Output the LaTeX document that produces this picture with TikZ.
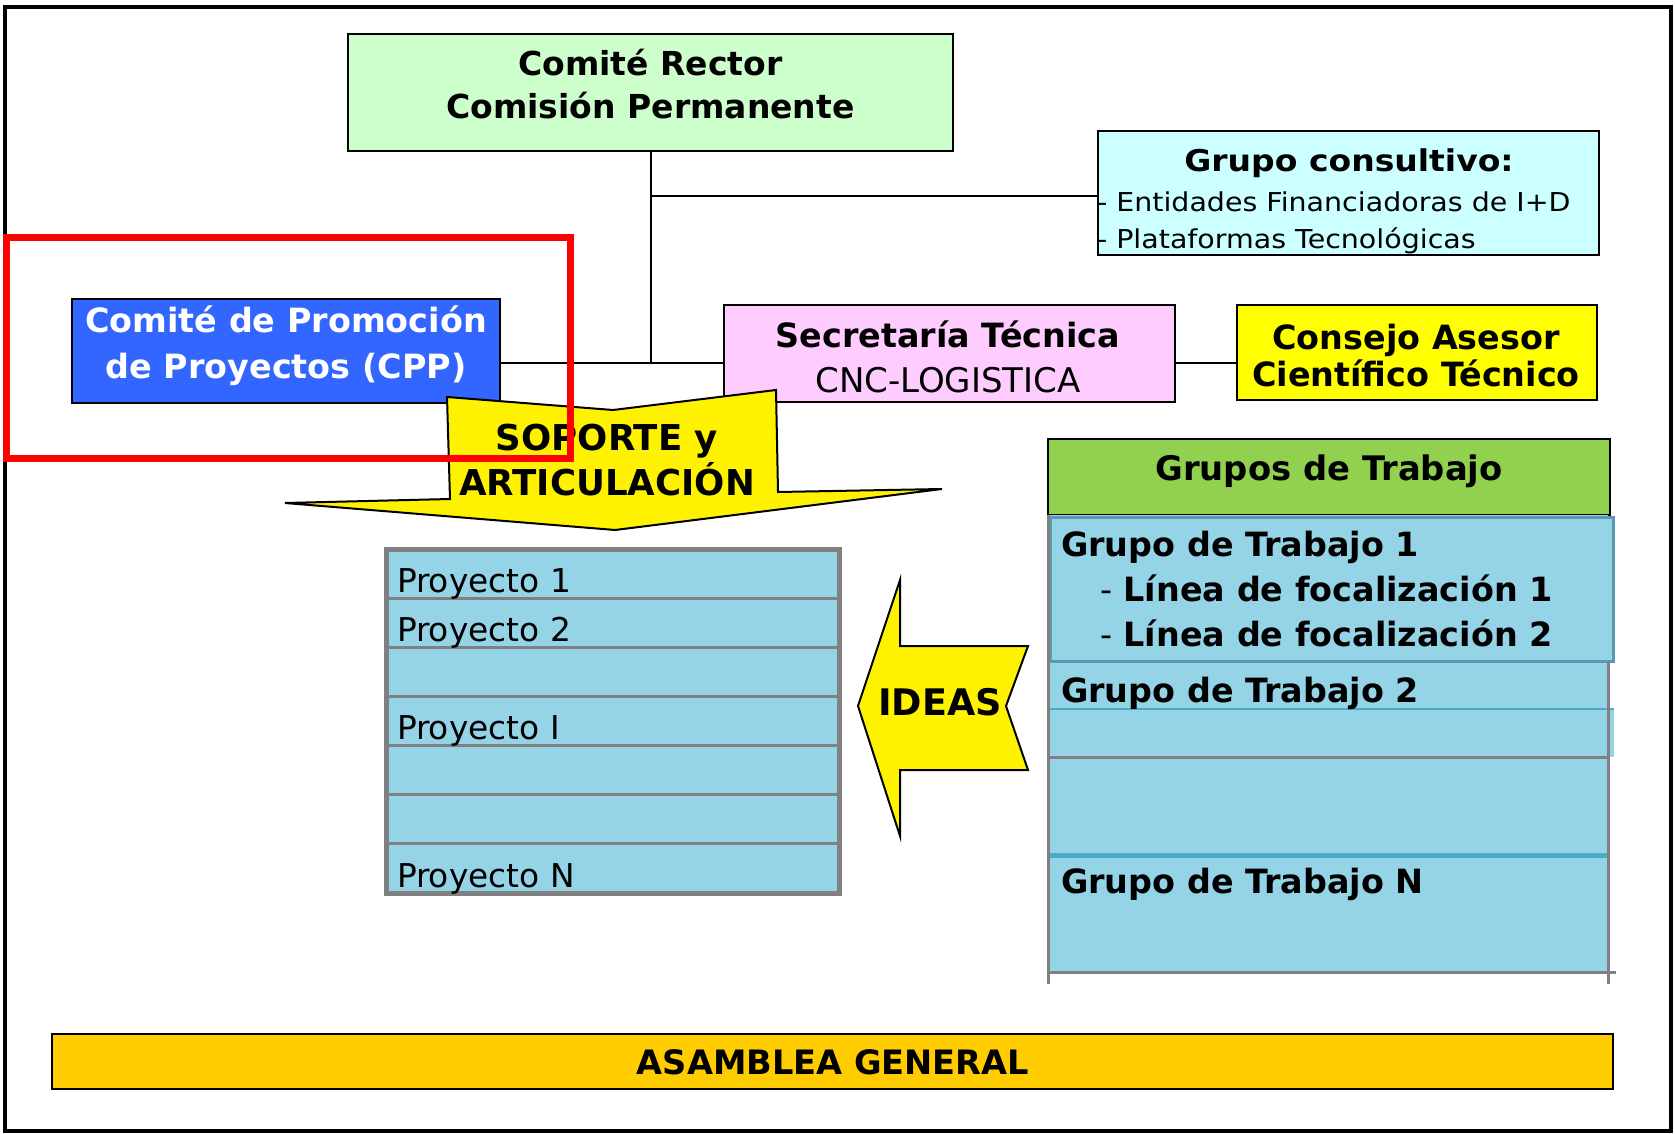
\documentclass[tikz,border=0pt]{standalone}
\usepackage{fontspec}
\setmainfont{DejaVu Sans}
\usepackage{graphicx}
\definecolor{crgreen}{HTML}{CCFFCC}
\definecolor{gccyan}{HTML}{CCFFFF}
\definecolor{cppblue}{HTML}{3366FF}
\definecolor{stpink}{HTML}{FFCCFF}
\definecolor{cayellow}{HTML}{FFFF00}
\definecolor{ghgreen}{HTML}{92D050}
\definecolor{rowblue}{HTML}{95D3E6}
\definecolor{agorange}{HTML}{FFCC00}
\definecolor{tealb}{HTML}{5A9AB0}
\definecolor{lightdiv}{HTML}{4BACC6}
\definecolor{grayb}{HTML}{808080}
\begin{document}
\begin{tikzpicture}[x=0.5pt,y=-0.5pt,
  box/.style={draw=black,line width=1pt,inner sep=0pt,outer sep=0pt},
  txt/.style={inner sep=0pt,outer sep=0pt,anchor=base},
  txtl/.style={inner sep=0pt,outer sep=0pt,anchor=base west},
  bigb/.style={font=\fontsize{16.7}{20}\selectfont\bfseries},
  regt/.style={font=\fontsize{16.4}{20}\selectfont},
  conn/.style={draw=black,line width=1pt},
  arrowshape/.style={draw=black,fill=yellow,line width=1pt,line join=miter},
  divider/.style={draw=grayb,line width=1.5pt}
]
\useasboundingbox (0,0) rectangle (1675,1134);
\fill[white] (0,0) rectangle (1675,1134);
% outer frame
\draw[line width=2pt] (4.5,7) rectangle (1670.5,1130.5);

% top boxes
\node[box,fill=crgreen,minimum width=302.5pt,minimum height=58.5pt] (cr) at (650.5,92.5) {};
\node[txt,font=\fontsize{16.5}{20}\selectfont\bfseries] (cr1) at (650.5,76) {Comité Rector};
\node[txt,font=\fontsize{16.5}{20}\selectfont\bfseries] (cr2) at (650.5,119) {Comisión Permanente};

\node[box,fill=gccyan,minimum width=250.5pt,minimum height=62pt] (gc) at (1348.5,193) {};
\node[txt,font=\fontsize{15}{18}\selectfont\bfseries] (gc1) at (1349,172) {\scalebox{1.1}[1]{Grupo consultivo:}};
\node[txtl,font=\fontsize{13}{16}\selectfont] (gc2) at (1097,212) {\scalebox{1.095}[1]{- Entidades Financiadoras de I+D}};
\node[txtl,font=\fontsize{13}{16}\selectfont] (gc3) at (1097,249) {\scalebox{1.095}[1]{- Plataformas Tecnológicas}};

\node[box,fill=cppblue,minimum width=214pt,minimum height=52pt] (cpp) at (286,351) {};
\node[txt,bigb,text=white] (cpp1) at (286,332) {Comité de Promoción};
\node[txt,bigb,text=white] (cpp2) at (286,378) {de Proyectos (CPP)};

\node[box,fill=stpink,minimum width=225.5pt,minimum height=48.5pt] (st) at (949.5,353.5) {};
\node[txt,bigb] (st1) at (948,347) {Secretaría Técnica};
\node[txt,font=\fontsize{17}{20}\selectfont] (st2) at (948,392) {CNC-LOGISTICA};

\node[box,fill=cayellow,minimum width=180pt,minimum height=47.5pt] (ca) at (1417,352.5) {};
\node[txt,bigb] (ca1) at (1416,349) {Consejo Asesor};
\node[txt,bigb] (ca2) at (1416,386) {Científico Técnico};

% connectors
\coordinate (j) at (650.5,363);
\coordinate (gcj) at ([yshift=-1.5pt]gc.west);
\draw[conn] (cr.south) -- (j);
\draw[conn] (cr.south |- gcj) -- (gcj);
\draw[conn] (cpp.east |- j) -- (st.west |- j);
\draw[conn] (st.east |- j) -- (ca.west |- j);

% SOPORTE arrow
\draw[arrowshape] (447,397) -- (613,410) -- (776,390) -- (778,492) -- (942,489)
  -- (615,530) -- (285,503) -- (450,499) -- cycle;
\node[txt,font=\fontsize{17.8}{20}\selectfont\bfseries] (sop1) at (607,450) {SOPORTE y};
\node[txt,font=\fontsize{17.8}{20}\selectfont\bfseries] (sop2) at (607,495) {ARTICULACIÓN};

% Proyectos list
\node[draw=grayb,line width=2.5pt,fill=rowblue,inner sep=0pt,outer sep=0pt,
  minimum width=226.5pt,minimum height=172pt] (proj) at (612.5,721) {};
\foreach \k in {1,...,6}{
  \draw[divider] (387,{549+49.14*\k}) -- (838,{549+49.14*\k});
}
\node[txtl,regt] (p1) at (397,592) {Proyecto 1};
\node[txtl,regt] (p2) at (397,641) {Proyecto 2};
\node[txtl,regt] (pi) at (397,739) {Proyecto I};
\node[txtl,regt] (pn) at (397,887) {Proyecto N};

% IDEAS arrow
\draw[arrowshape] (858,706) -- (900,580) -- (900,646) -- (1028,646) -- (1006,706)
  -- (1028,770) -- (900,770) -- (900,836) -- cycle;
\node[inner sep=0pt,font=\fontsize{18.3}{20}\selectfont\bfseries] (ideas) at (940,702) {IDEAS};

% Grupos de trabajo
\node[box,fill=ghgreen,minimum width=281pt,minimum height=38pt] (gh) at (1329,477) {};
\node[txt,font=\fontsize{16.9}{20}\selectfont\bfseries] (gh1) at (1329,480) {Grupos de Trabajo};
\fill[rowblue] (1048,515) rectangle (1608,972);
\fill[rowblue] (1608,709) rectangle (1614,757);
\node[draw=tealb,line width=1.5pt,fill=rowblue,inner sep=0pt,outer sep=0pt,
  minimum width=281.5pt,minimum height=72pt] (g1) at (1331.5,589) {};
\draw[draw=lightdiv,line width=0.6pt] (1049,709) -- (1614,709);
\draw[divider] (1049,757) -- (1608,757);
\draw[draw=lightdiv,line width=2.5pt] (1050,855) -- (1608,855);
\draw[divider] (1048,515) -- (1048,984);
\draw[divider] (1608,662) -- (1608,984);
\draw[divider] (1047,972) -- (1616,972);
\node[txtl,bigb] (g1t) at (1061,556) {Grupo de Trabajo 1};
\node[txtl,bigb] (l1) at (1100,601) {{\mdseries -} Línea de focalización 1};
\node[txtl,bigb] (l2) at (1100,646) {{\mdseries -} Línea de focalización 2};
\node[txtl,bigb] (g2t) at (1061,702) {Grupo de Trabajo 2};
\node[txtl,bigb] (gnt) at (1061,893) {Grupo de Trabajo N};

% Asamblea
\node[box,fill=agorange,line width=1.2pt,minimum width=780.5pt,minimum height=27.5pt] (ag) at (832.5,1061.5) {};
\node[inner sep=0pt,font=\fontsize{16.8}{20}\selectfont\bfseries] (agt) at (833,1062) {ASAMBLEA GENERAL};

% red highlight
\draw[red,line width=3.5pt] (6.5,237.5) rectangle (570.5,458.5);
\end{tikzpicture}
\end{document}
